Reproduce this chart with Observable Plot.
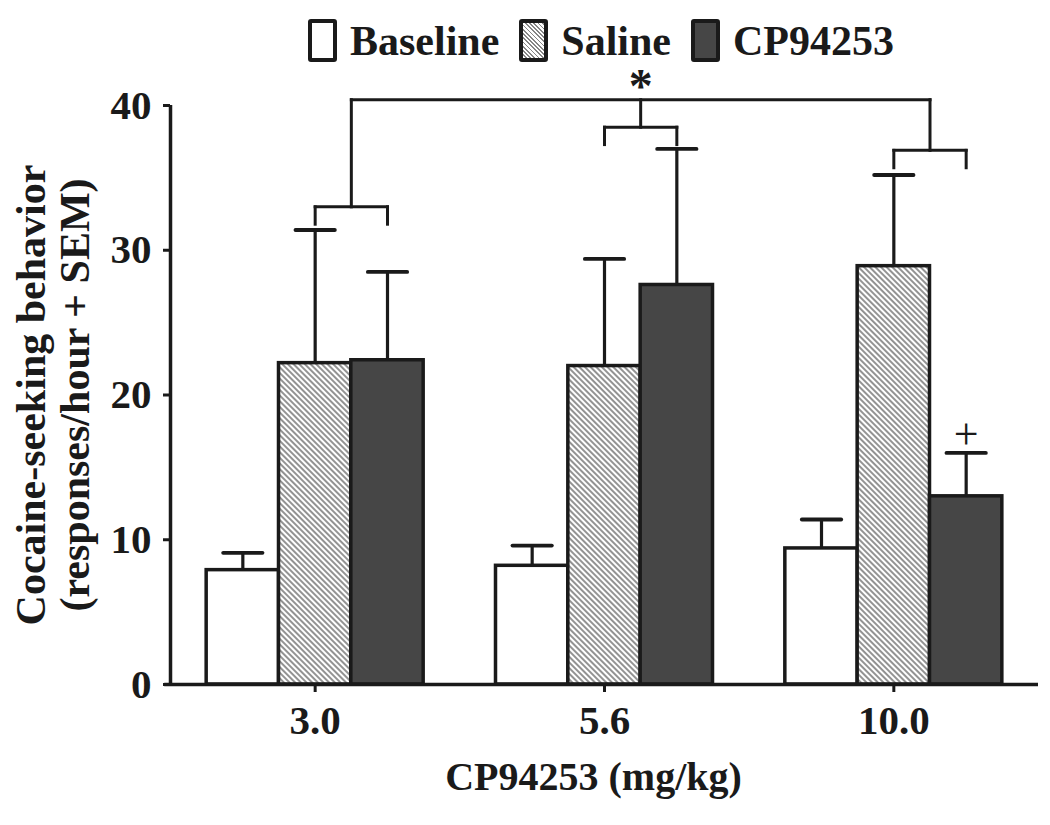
<!DOCTYPE html>
<html>
<head>
<meta charset="utf-8">
<script src="https://cdn.jsdelivr.net/npm/d3@7"></script>
<script src="https://cdn.jsdelivr.net/npm/@observablehq/plot@0.6"></script>
<style>
  html, body { margin: 0; padding: 0; background: white; }
  #legend {
    height: 55px; width: 1050px; box-sizing: border-box;
    display: flex; align-items: center; justify-content: center; gap: 20px;
    padding-left: 152px; padding-top: 26px;
    font-family: "Liberation Serif", serif; font-weight: bold; font-size: 42px; color: #1a1a1a;
    position: relative; z-index: 1;
  }
  .item { display: flex; align-items: center; }
  .sw { box-sizing: border-box; width: 29px; height: 43px; border: 4.5px solid #1a1a1a; border-radius: 3px; margin-right: 13px; }
  .lab { line-height: 1; }
  #chart svg { display: block; }
</style>
</head>
<body>
<div id="legend"></div>
<div id="chart"></div>
<script>
// ---- data ----
const doses = ["3.0", "5.6", "10.0"];
const treatments = ["Baseline", "Saline", "CP94253"];
const baselineMean = [7.9, 8.2, 9.4];
const baselineSEM = [1.2, 1.4, 2.0];
const salineMean = [22.2, 22.0, 28.9];
const salineSEM = [9.2, 7.4, 6.3];
const cpMean = [22.4, 27.6, 13.0];
const cpSEM = [6.1, 9.4, 3.0];
const yTicks = [0, 10, 20, 30, 40];
const bracketY = [33.0, 38.5, 36.9];   // Saline vs CP94253 bracket heights per dose
const overallBracketY = 40.4;          // top bracket joining the three comparisons
const bracketLeg = 1.2;
const plusMarkerDose = "10.0";         // "+" marker over CP94253 bar

const fills = {Baseline: "white", Saline: "url(#hatch)", CP94253: "#464646"};
const means = [baselineMean, salineMean, cpMean];
const sems = [baselineSEM, salineSEM, cpSEM];

const barW = 0.25;
const data = [];
doses.forEach((d, g) => {
  treatments.forEach((t, k) => {
    const c = g + (k - 1) * barW;
    data.push({dose: d, treatment: t, g, center: c, x1: c - barW / 2, x2: c + barW / 2,
               mean: means[k][g], sem: sems[k][g], top: means[k][g] + sems[k][g]});
  });
});

// bracket segments
const segs = [];
doses.forEach((d, g) => {
  const a = g, b = g + barW, m = g + barW / 2, y = bracketY[g];
  segs.push({x1: a, x2: b, y1: y, y2: y});
  segs.push({x1: a, x2: a, y1: y - bracketLeg, y2: y});
  segs.push({x1: b, x2: b, y1: y - bracketLeg, y2: y});
  segs.push({x1: m, x2: m, y1: y, y2: overallBracketY});
});
segs.push({x1: 0 + barW / 2, x2: 2 + barW / 2, y1: overallBracketY, y2: overallBracketY});
const starPos = [{x: 1 + barW / 2, y: overallBracketY}];
const plusPos = data.filter(d => d.dose === plusMarkerDose && d.treatment === "CP94253");

// ---- legend ----
const legend = document.getElementById("legend");
treatments.forEach(t => {
  const it = document.createElement("div"); it.className = "item";
  const sw = document.createElement("span"); sw.className = "sw";
  if (t === "Baseline") sw.style.background = "white";
  else if (t === "Saline") sw.style.background = "repeating-linear-gradient(45deg, #ffffff 0px, #ffffff 1.7px, #858585 1.7px, #858585 3px)";
  else sw.style.background = "#464646";
  const lb = document.createElement("span"); lb.className = "lab"; lb.textContent = t;
  it.appendChild(sw); it.appendChild(lb); legend.appendChild(it);
});

const ink = "#1a1a1a";
const chart = Plot.plot({
  width: 1050, height: 770,
  marginLeft: 170, marginRight: 12, marginTop: 50, marginBottom: 141,
  x: {domain: [-0.5, 2.5], axis: null},
  y: {domain: [0, 40], axis: null},
  style: {fontFamily: "'Liberation Serif', serif", fontWeight: "bold", fontSize: "41px", color: ink, background: "transparent"},
  marks: [
    Plot.axisY({ticks: yTicks, tickSize: 7, tickPadding: 12, strokeWidth: 3, label: null, fontSize: 41}),
    Plot.axisX({ticks: [0, 1, 2], tickFormat: i => doses[i], tickSize: 8, tickPadding: 12, strokeWidth: 3, label: null, fontSize: 41}),
    // error bars (upper SEM)
    Plot.ruleX(data, {x: "center", y1: "mean", y2: "top", stroke: ink, strokeWidth: 3.2}),
    Plot.link(data, {x1: d => d.center - 0.068, x2: d => d.center + 0.068, y1: "top", y2: "top", stroke: ink, strokeWidth: 3.8, strokeLinecap: "round"}),
    // bars
    ...treatments.map(t => Plot.rect(data.filter(d => d.treatment === t), {x1: "x1", x2: "x2", y1: 0, y2: "mean", fill: fills[t], stroke: ink, strokeWidth: 3.5})),
    // axis lines
    Plot.ruleX([-0.5], {y1: 0, y2: 40, stroke: ink, strokeWidth: 3.5}),
    Plot.ruleY([0], {x1: -0.52, x2: 2.5, stroke: ink, strokeWidth: 3.5}),
    // brackets
    Plot.link(segs, {x1: "x1", x2: "x2", y1: "y1", y2: "y2", stroke: ink, strokeWidth: 3, strokeLinecap: "square"}),
    Plot.text(starPos, {x: "x", y: "y", text: () => "*", dy: -13, fontSize: 48, lineAnchor: "middle"}),
    Plot.text(plusPos, {x: "center", y: "top", text: () => "+", dy: -18, fontSize: 44, fontWeight: "normal"}),
    // axis titles
    Plot.text(["Cocaine-seeking behavior\n(responses/hour + SEM)"], {frameAnchor: "left", textAnchor: "middle", rotate: -90, dx: -118, fontSize: 42, lineHeight: 1.05}),
    Plot.text(["CP94253 (mg/kg)"], {frameAnchor: "bottom", lineAnchor: "top", dy: 77, dx: -11, fontSize: 40})
  ]
});
const svg = chart.tagName.toLowerCase() === "svg" ? chart : chart.querySelector("svg");
d3.select(svg).insert("defs", ":first-child").html(
  '<pattern id="hatch" patternUnits="userSpaceOnUse" width="4" height="4" patternTransform="rotate(-45)">' +
  '<rect width="4" height="4" fill="white"/><line x1="1" y1="0" x2="1" y2="4" stroke="#808080" stroke-width="1.7"/></pattern>');
document.getElementById("chart").appendChild(chart);
</script>
</body>
</html>
